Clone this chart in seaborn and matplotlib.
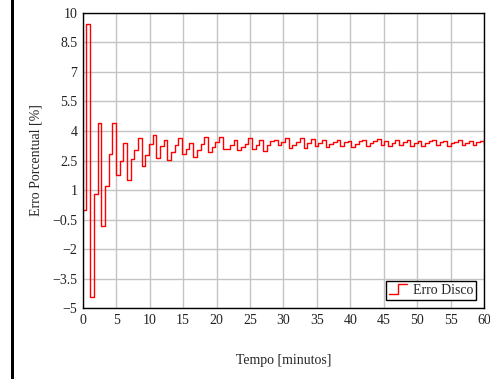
import numpy as np
import pandas as pd
import seaborn as sns
import matplotlib.pyplot as plt
from matplotlib.lines import Line2D
from matplotlib.patches import Rectangle
from matplotlib.ticker import FuncFormatter
from matplotlib.legend_handler import HandlerBase

# erro percentual, um valor por passo de tempo
erro = [0.0, 9.44, -4.44, 0.78, 4.39, -0.82, 1.23, 2.83, 4.39, 1.74,
        2.46, 3.38, 1.49, 2.58, 3.04, 3.65, 2.22, 2.78, 3.32, 3.80,
        2.61, 3.24, 3.53, 2.51, 2.92, 3.29, 3.65, 2.81, 3.10, 3.38,
        2.68, 3.02, 3.35, 3.68, 2.93, 3.18, 3.43, 3.68, 3.10, 3.10,
        3.30, 3.55, 3.02, 3.18, 3.35, 3.63, 3.10, 3.30, 3.52, 2.98,
        3.27, 3.47, 3.52, 3.30, 3.43, 3.63, 3.15, 3.30, 3.45, 3.65,
        3.15, 3.38, 3.60, 3.25, 3.40, 3.53, 3.19, 3.36, 3.44, 3.56,
        3.22, 3.42, 3.47, 3.19, 3.36, 3.47, 3.53, 3.24, 3.39, 3.47,
        3.59, 3.27, 3.47, 3.24, 3.39, 3.56, 3.31, 3.44, 3.52, 3.22,
        3.38, 3.50, 3.25, 3.40, 3.50, 3.55, 3.27, 3.42, 3.50, 3.25,
        3.38, 3.45, 3.52, 3.28, 3.40, 3.50, 3.30, 3.42, 3.48, 3.27]
passo = 0.55  # minutos
t_fim = 60

y_ticks = [-5, -3.5, -2, -0.5, 1, 2.5, 4, 5.5, 7, 8.5, 10]
x_ticks = list(range(0, 61, 5))

tempo = np.round(np.arange(len(erro)) * passo, 2)
df = pd.DataFrame({'tempo': np.append(tempo, t_fim), 'erro': erro + [erro[-1]]})

sns.set_style('whitegrid')
plt.rcParams['font.family'] = ['Liberation Serif', 'DejaVu Serif']


class StepHandler(HandlerBase):
    def create_artists(self, legend, orig_handle, xdescent, ydescent,
                       width, height, fontsize, trans):
        x0 = -xdescent
        xs = [x0, x0 + width * 0.5, x0 + width * 0.5, x0 + width]
        ys = [-ydescent + height * 0.05, -ydescent + height * 0.05,
              -ydescent + height * 1.05, -ydescent + height * 1.05]
        ln = Line2D(xs, ys, color=orig_handle.get_color(), lw=1.0, transform=trans)
        return [ln]


fig, ax = plt.subplots(figsize=(4.9, 3.79), dpi=100)
fig.subplots_adjust(left=0.169, right=0.988, top=0.966, bottom=0.187)

sns.lineplot(data=df, x='tempo', y='erro', drawstyle='steps-post',
             color='red', linewidth=1.0, ax=ax, label='Erro Disco')

ax.set_xlim(0, 60)
ax.set_ylim(-5, 10)
ax.set_xticks(x_ticks)
ax.set_yticks(y_ticks)
ax.yaxis.set_major_formatter(FuncFormatter(lambda v, p: f'{v:g}'.replace('-', '\u2212')))
ax.tick_params(length=0, labelsize=10, pad=4, colors='#222222')
ax.grid(True, color='#c4c4c4', linewidth=1.0)
for s in ax.spines.values():
    s.set_color('black')
    s.set_linewidth(1.0)

ax.set_xlabel('Tempo [minutos]', fontsize=10, labelpad=20)
ax.set_ylabel('Erro Porcentual [%]', fontsize=10, labelpad=7)

h = ax.get_lines()[0]
leg = ax.legend([h], ['Erro Disco'], loc='lower right', fontsize=10,
                handler_map={Line2D: StepHandler()}, fancybox=False,
                framealpha=1, edgecolor='black', borderpad=0.2,
                handlelength=1.3, handletextpad=0.4, borderaxespad=0.6)
leg.get_frame().set_linewidth(1.0)

# barra preta na borda esquerda
fig.add_artist(Rectangle((11 / 490, 0), 3 / 490, 1, transform=fig.transFigure,
                         color='black', lw=0))

plt.savefig('out.png', dpi=100)
